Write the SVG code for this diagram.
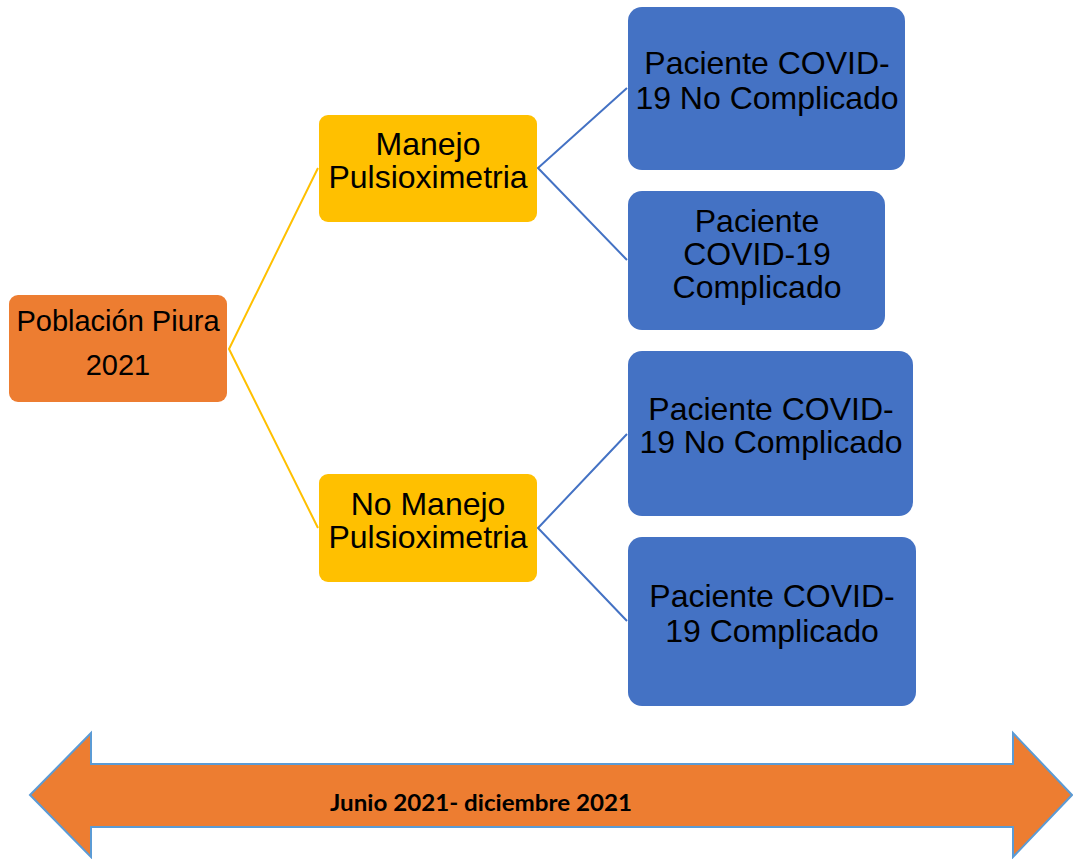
<svg xmlns="http://www.w3.org/2000/svg" width="1073" height="859" viewBox="0 0 1073 859">
<style>
.t{font-family:"Liberation Sans",Arial,sans-serif;font-size:32px;fill:#000;text-anchor:middle}
.blue{fill:#4472C4}
.yel{fill:#FFC000}
.org{fill:#ED7D31}
.cy{stroke:#FFC000;stroke-width:2;fill:none}
.cb{stroke:#4472C4;stroke-width:2;fill:none}
</style>
<rect width="1073" height="859" fill="#fff"/>
<g id="connectors">
<polyline class="cy" points="318,168 229,349 318,528"/>
<polyline class="cb" points="627,88 538,168 627,260"/>
<polyline class="cb" points="627,434 538,528 627,621"/>
</g>
<g id="poblacion">
<rect class="org" x="9" y="295" width="218" height="107" rx="9"/>
<text class="t" x="118" y="331" style="font-size:29px">Población Piura</text>
<text class="t" x="118" y="375" style="font-size:29px">2021</text>
</g>
<g id="manejo">
<rect class="yel" x="319" y="115" width="218" height="107" rx="9"/>
<text class="t" x="428" y="155">Manejo</text>
<text class="t" x="428" y="188">Pulsioximetria</text>
</g>
<g id="nomanejo">
<rect class="yel" x="319" y="474" width="218" height="108" rx="9"/>
<text class="t" x="428" y="515">No Manejo</text>
<text class="t" x="428" y="548">Pulsioximetria</text>
</g>
<g id="p1">
<rect class="blue" x="628" y="7" width="277" height="163" rx="14"/>
<text class="t" x="767" y="74">Paciente COVID-</text>
<text class="t" x="767" y="109">19 No Complicado</text>
</g>
<g id="p2">
<rect class="blue" x="628" y="191" width="257" height="139" rx="14"/>
<text class="t" x="757" y="232">Paciente</text>
<text class="t" x="757" y="265">COVID-19</text>
<text class="t" x="757" y="298">Complicado</text>
</g>
<g id="p3">
<rect class="blue" x="628" y="351" width="285" height="165" rx="14"/>
<text class="t" x="771" y="420">Paciente COVID-</text>
<text class="t" x="771" y="453">19 No Complicado</text>
</g>
<g id="p4">
<rect class="blue" x="628" y="537" width="288" height="169" rx="14"/>
<text class="t" x="772" y="607">Paciente COVID-</text>
<text class="t" x="772" y="642">19 Complicado</text>
</g>
<g id="timeline">
<polygon points="30,795 91,733 91,764 1013,764 1013,733 1072,795 1013,857 1013,827 91,827 91,857" fill="#ED7D31" stroke="#5B9BD5" stroke-width="2" stroke-linejoin="miter"/>
<text x="330" y="811" textLength="302" lengthAdjust="spacingAndGlyphs" style="font-family:Lato,'Liberation Sans',sans-serif;font-weight:700;font-size:22px;fill:#000">Junio 2021- diciembre 2021</text>
</g>
</svg>
